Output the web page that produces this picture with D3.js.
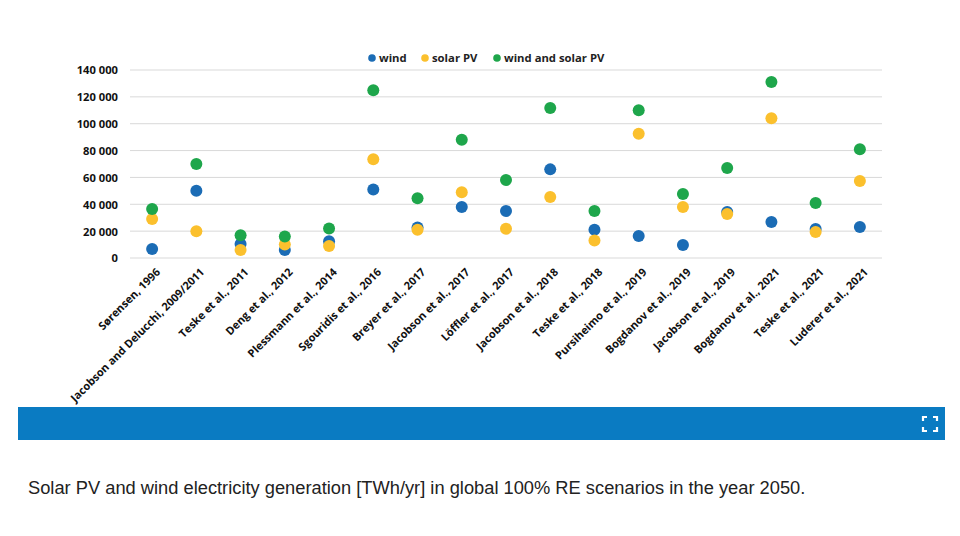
<!DOCTYPE html>
<html><head><meta charset="utf-8">
<script src="https://cdn.jsdelivr.net/npm/d3@7"></script>
<style>
body{margin:0;background:#fff;}
svg{display:block;}
</style></head>
<body>
<svg id="c" width="960" height="536"></svg>
<script>
const categories = ["Sørensen, 1996","Jacobson and Delucchi, 2009/2011","Teske et al., 2011","Deng et al., 2012","Plessmann et al., 2014","Sgouridis et al., 2016","Breyer et al., 2017","Jacobson et al., 2017","Löffler et al., 2017","Jacobson et al., 2018","Teske et al., 2018","Pursiheimo et al., 2019","Bogdanov et al., 2019","Jacobson et al., 2019","Bogdanov et al., 2021","Teske et al., 2021","Luderer et al., 2021"];
const wind =  [6700,50000,10500,6000,12500,51000,22700,38000,35000,66000,21000,16400,9700,34300,26800,21600,23000];
const solar = [29000,20000,6000,10000,9000,73500,21000,49000,21800,45500,13000,92500,38000,32800,104000,19300,57300];
const windSolar = [36500,70000,17000,16000,22000,125000,44500,88000,58000,111700,35000,110000,47700,67000,131000,41000,81000];
const yTicks = [0,20000,40000,60000,80000,100000,120000,140000];
const seriesNames = ["wind","solar PV","wind and solar PV"];
const colors = ["#1b6cb5","#fbc02d","#1ea64b"];

const svg = d3.select("#c");
const x = d3.scaleBand().domain(categories).range([130,882]);
const y = d3.scaleLinear().domain([0,140000]).range([258,70]);
const fmt = v => d3.format(",")(v).replace(/,/g," ");

// gridlines
svg.append("g").selectAll("line").data(yTicks).join("line")
  .attr("x1",130).attr("x2",882)
  .attr("y1",d=>y(d)).attr("y2",d=>y(d))
  .attr("stroke","#d9d9d9").attr("stroke-width",1);

// y axis labels
const yAxis = d3.axisLeft(y).tickValues(yTicks).tickFormat(fmt).tickSize(0).tickPadding(0);
const ya = svg.append("g").attr("transform","translate(118,0)").call(yAxis);
ya.select(".domain").remove();
ya.selectAll("text").attr("font-family","'Open Sans', sans-serif").attr("font-weight","bold")
  .attr("font-size","11.2px").attr("fill","#111").attr("dy","0.35em");

// x axis labels
const xAxis = d3.axisBottom(x).tickSize(0).tickPadding(0);
const xa = svg.append("g").attr("transform","translate(0,258)").call(xAxis);
xa.select(".domain").remove();
xa.selectAll("text")
  .attr("font-family","'Open Sans', sans-serif").attr("font-weight","bold")
  .attr("font-size","11px").attr("fill","#111")
  .attr("text-anchor","end")
  .attr("transform","translate(6,12) rotate(-45)")
  .attr("dy","0.35em").attr("y",0);

// dots
const series = [wind, solar, windSolar];
series.forEach((vals,i)=>{
  svg.append("g").selectAll("circle").data(vals).join("circle")
    .attr("cx",(d,j)=>x(categories[j])+x.bandwidth()/2)
    .attr("cy",d=>y(d)).attr("r",6)
    .attr("fill",colors[i]);
});

// legend
const legX = [372,425,497];
const lg = svg.append("g");
seriesNames.forEach((n,i)=>{
  lg.append("circle").attr("cx",legX[i]).attr("cy",58).attr("r",3.8).attr("fill",colors[i]);
  lg.append("text").attr("x",legX[i]+7).attr("y",58).attr("dy","0.35em")
    .attr("font-family","'Open Sans', sans-serif").attr("font-weight","bold")
    .attr("font-size","11.3px").attr("fill","#222").text(n);
});

// blue bar
svg.append("rect").attr("x",18).attr("y",407).attr("width",927).attr("height",33).attr("fill","#0a7bc2");
// expand icon
const ic = svg.append("g").attr("stroke","#fff").attr("stroke-width",2.2).attr("fill","none");
const cx=930, cy=424, s=7, l=4;
[[-1,-1],[1,-1],[-1,1],[1,1]].forEach(([dx,dy])=>{
  ic.append("path").attr("d",`M${cx+dx*s},${cy+dy*(s-l)} L${cx+dx*s},${cy+dy*s} L${cx+dx*(s-l)},${cy+dy*s}`);
});

// caption
svg.append("text").attr("x",28).attr("y",494)
  .attr("font-family","'Liberation Sans', Arial, sans-serif").attr("font-size","18.3px").attr("fill","#222")
  .text("Solar PV and wind electricity generation [TWh/yr] in global 100% RE scenarios in the year 2050.");
</script>
</body></html>
